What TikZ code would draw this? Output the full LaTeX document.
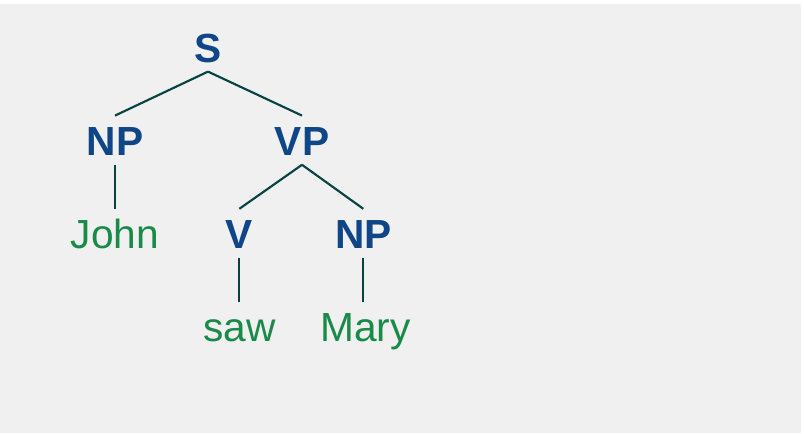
\documentclass[tikz,border=0pt]{standalone}
\usepackage{fontspec}
\setmainfont{Liberation Sans}
\usepackage{xcolor}
\usepackage{tikz}
\usetikzlibrary{positioning}

\definecolor{catblue}{RGB}{15,70,135}
\definecolor{wordgreen}{RGB}{25,138,72}
\definecolor{branchteal}{RGB}{8,66,66}
\definecolor{panelgray}{RGB}{240,240,240}

\begin{document}
\begin{tikzpicture}[
    x=0.75pt, y=-0.75pt,
    node distance=33pt,
    cat/.style={font=\fontsize{30.5}{36}\selectfont\bfseries, text=catblue, text height=22.5pt, text depth=0pt, inner xsep=2pt, inner ysep=7pt},
    word/.style={font=\fontsize{30.5}{36}\selectfont, text=wordgreen, text height=22.5pt, text depth=0pt, inner xsep=2pt, inner ysep=7pt},
    branch/.style={line width=1.6pt, branchteal}
]
\path[use as bounding box, fill=white] (0,0) rectangle (804,433);
\fill[panelgray] (0,4) rectangle (801,433);

\node[cat, anchor=base] (s) at (208,62) {S};
\node[cat, below=of s, xshift=-69.75pt] (np1) {NP};
\node[cat, below=of s, xshift=70.5pt] (vp) {VP};
\node[word, below=of np1] (john) {John};
\node[cat, below=of vp, xshift=-47pt] (v) {V};
\node[cat, below=of vp, xshift=46pt] (np2) {NP};
\node[word, below=of v] (saw) {saw};
\node[word, below=of np2, xshift=1.5pt] (mary) {Mary};

\draw[branch] (s.south) -- (np1.north);
\draw[branch] (s.south) -- (vp.north);
\draw[branch] (np1.south) -- (john.north);
\draw[branch] (vp.south) -- (v.north);
\draw[branch] (vp.south) -- (np2.north);
\draw[branch] (v.south) -- (saw.north);
\draw[branch] (np2.south) -- (np2.south |- mary.north);
\end{tikzpicture}
\end{document}
